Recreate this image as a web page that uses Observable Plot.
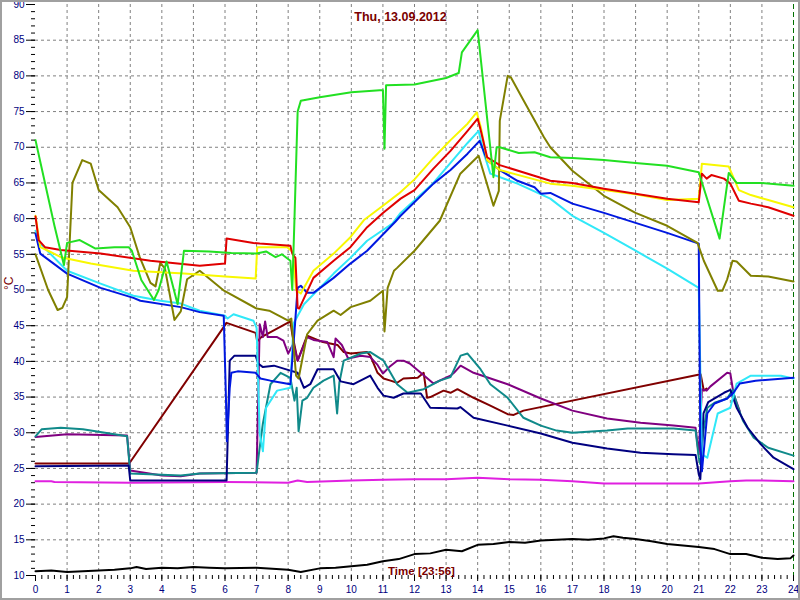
<!DOCTYPE html>
<html><head><meta charset="utf-8">
<script src="https://cdn.jsdelivr.net/npm/d3@7"></script>
<script src="https://cdn.jsdelivr.net/npm/@observablehq/plot@0.6"></script>
<style>
body{margin:0;background:#fff;}
#chart svg{display:block;outline:2px solid #a0a0a0;outline-offset:-2px;}
</style></head><body><div id="chart"></div>
<script>
// hours on x, °C on y
const hourTicks = d3.range(0, 25);
const hourMinor = d3.range(0, 24.01, 0.2);
const tempTicks = d3.range(10, 91, 5);
const tempMinor = d3.range(10, 91, 1);
const nowMarker = [24];
const titleText = ["Thu, 13.09.2012"];
const timeText = ["Time [23:56]"];
const unitText = ["°C"];

const lime = [[0,71],[0.3,65],[0.6,59],[0.9,53.5],[1.0,56.6],[1.4,57],[1.9,55.8],[2.5,56],[2.95,56],[3.05,55.5],[3.35,51.4],[3.75,48.6],[3.9,50],[4.15,54],[4.5,48],[4.7,55.5],[5.5,55.4],[6.2,55.2],[7.0,55.1],[7.3,55.4],[7.6,54.6],[7.8,55],[8.07,54.1],[8.13,50],[8.2,60],[8.3,75],[8.4,76.5],[9,77],[10,77.7],[10.9,78],[11.0,78],[11.05,69.8],[11.1,78.7],[12,78.8],[13,79.7],[13.4,80.4],[13.5,83.3],[14.0,86.4],[14.5,65.8],[14.6,70],[14.7,70],[15.3,69.2],[15.8,69.3],[16.3,68.6],[17,68.5],[18,68.2],[19,67.8],[20,67.4],[21.0,66.5],[21.66,57.2],[21.95,66.4],[22.2,65],[22.95,65],[24,64.6]];
const olive = [[0,55],[0.4,50],[0.7,47.2],[0.85,47.5],[1.0,49],[1.17,65],[1.48,68.2],[1.75,67.7],[2.0,64],[2.6,61.6],[3.0,58.8],[3.3,54.6],[3.64,51],[3.8,50.5],[3.95,53.8],[4.1,53],[4.4,45.8],[4.6,47],[4.8,51.5],[5.2,52.7],[5.97,49.9],[7.0,47.4],[7.4,47.1],[8.0,45.7],[8.1,46],[8.25,38],[8.33,37.6],[8.6,43.8],[8.93,45.7],[9.44,47.1],[9.66,46.5],[9.98,47.6],[10.6,48.5],[11.0,49.9],[11.05,44.2],[11.15,50.3],[11.35,52.7],[11.45,53.1],[12,55.5],[12.8,59.7],[13.45,66.3],[14.03,68.8],[14.5,61.8],[14.67,63.9],[14.7,73.7],[14.95,80],[15.05,79.8],[15.45,76.6],[16.1,71.4],[16.3,70],[17,66.7],[18,63.2],[19,60.8],[20,59],[20.96,56.6],[21.16,54.1],[21.6,49.9],[21.75,49.9],[21.9,51.5],[22.07,54.1],[22.2,54],[22.65,52],[23.2,51.9],[24,51.2]];
const red = [[0,60.3],[0.1,57],[0.3,56],[0.8,55.6],[2.06,55.1],[3.64,54.1],[5.2,53.4],[6.0,53.7],[6.05,57.2],[6.9,56.6],[7.1,56.5],[8.07,56.2],[8.13,55.1],[8.23,54.5],[8.3,47.5],[8.35,47.4],[8.8,51.7],[9.44,54.1],[9.97,56],[10.5,58.8],[11,60.8],[11.56,62.8],[12,64],[12.6,67],[13.14,69.5],[13.68,72.3],[14.0,74],[14.1,72.3],[14.3,68.6],[14.7,67.5],[16.3,65.3],[17,65],[18,64.2],[19,63.5],[20,62.8],[21,62.3],[21.1,66.3],[21.25,65.6],[21.4,66.1],[21.8,65.6],[22,64.9],[22.27,62.5],[22.65,62.1],[23.2,61.6],[24,60.4]];
const yellow = [[0,60.4],[0.15,56],[0.4,55.5],[0.8,54.6],[1.75,53.7],[3.1,52.7],[4.7,52.3],[6,51.9],[6.97,51.6],[7.02,56],[7.97,56],[8.15,55.3],[8.25,50],[8.4,49.5],[8.8,52.7],[9.44,55.1],[9.97,57.4],[10.4,59.8],[11,61.8],[11.5,63.5],[12,65.5],[12.6,68.5],[13.14,71],[13.68,73.3],[13.97,74.9],[14.1,72.8],[14.3,68.2],[14.7,66.8],[16.3,64.9],[17,64.6],[18,64],[19,63.4],[20,62.6],[21,62.8],[21.1,67.7],[21.95,67.3],[22.27,64],[22.65,63.3],[23.2,62.6],[24,61.6]];
const cyan = [[0,58.3],[0.15,56.5],[1,52.7],[2.06,50.9],[3.1,49.2],[3.96,48.5],[4.6,48.1],[5.2,47.1],[6.0,46.4],[6.08,46],[6.27,46.6],[6.9,45.7],[7.0,44.7],[7.1,29.8],[7.2,27.4],[7.3,33.5],[7.65,35.9],[8.07,36.3],[8.17,45.3],[8.5,48],[9.44,52.3],[9.97,54.5],[10.5,56.9],[11.3,59.3],[11.56,60.8],[12.6,65],[13.14,67.8],[13.68,70.6],[14.03,72.3],[14.2,69.1],[14.4,66.3],[15.26,64.9],[16.3,62.8],[17,60.4],[18,58],[19,55.5],[20,53],[21.0,50.3],[21.1,27],[21.27,26.5],[21.6,32.7],[22.0,33.5],[22.2,36.9],[22.65,38],[23.6,38],[24,37.6]];
const blue = [[0,57.9],[0.15,55.1],[1,52.3],[2.06,50.3],[3.1,48.9],[3.32,48.5],[4.6,47.6],[5.2,46.9],[5.96,46.4],[6.03,34.9],[6.06,28.8],[6.15,36.3],[6.2,38.4],[6.4,38.6],[6.97,38.4],[7.12,37.6],[7.44,37.3],[8.07,36.8],[8.2,44.2],[8.3,50.3],[8.4,50.6],[8.6,49.6],[8.8,49.6],[9.44,51.7],[9.97,53.7],[10.5,55.5],[11.4,59.6],[11.56,60.4],[12.6,64.9],[13.14,66.8],[13.68,69.1],[14.06,70.9],[14.3,68.2],[14.7,66.8],[15.26,65.3],[15.8,64.4],[16.0,63.5],[16.3,63.6],[17,62.1],[18,60.8],[19,59.4],[20,58],[21.0,56.5],[21.05,28.8],[21.1,24.6],[21.27,32.7],[21.5,34.1],[21.9,34.8],[22.1,35.6],[22.3,36.9],[22.8,37.3],[24,37.7]];
const navy = [[0,25.3],[2.95,25.4],[3.0,23.3],[5.95,23.3],[6.05,23.3],[6.15,40.1],[6.3,40.8],[6.97,40.8],[7.05,39.7],[7.2,39.2],[7.55,39.4],[8.07,38.7],[8.3,38.4],[8.5,36.3],[8.7,36.8],[8.93,38.9],[9.44,38.9],[9.66,37.2],[10.07,36.8],[10.6,38],[10.83,36.3],[11.02,35.2],[11.34,34.9],[11.65,35.5],[12.2,35.5],[12.5,33.5],[13.36,33.4],[13.45,33.6],[13.87,32.1],[14.95,31],[16,29.9],[17,28.6],[18.1,27.8],[19.16,27.2],[20.2,27],[20.9,26.9],[21.0,24.2],[21.05,23.5],[21.15,32.7],[21.3,34.3],[21.8,35.6],[22,36],[22.2,33.5],[22.55,30.7],[22.96,28.4],[23.37,26.5],[24,24.9]];
const maroon = [[0,25.7],[2.95,25.7],[3.0,25.9],[6.05,45.4],[6.97,44],[7.02,42.8],[7.15,43.4],[8.07,45.6],[8.13,43.8],[8.3,40.1],[8.6,43.6],[9.1,42.7],[9.56,42.3],[9.76,41.3],[9.98,41.1],[10.5,41.3],[10.6,40.8],[10.83,38.4],[11.02,37.6],[11.24,37.3],[11.45,37],[11.65,37.6],[12.1,37.7],[12.29,38.4],[12.4,34.9],[12.5,35],[12.92,35.9],[13.14,35.6],[13.36,36.1],[13.87,34.9],[14.4,33.8],[14.95,32.6],[15.14,32.5],[15.45,33.1],[21.06,38.2],[21.16,35.9],[21.25,36.2]];
const purple = [[0,29.4],[1,29.8],[2.9,29.6],[3.0,24.7],[4,24],[4.6,23.9],[5.2,24.3],[7.0,24.4],[7.1,45.2],[7.2,43.4],[7.27,45.6],[7.35,43.4],[7.65,43.4],[7.85,42.9],[8.0,41.1],[8.17,42.5],[8.3,40.1],[8.4,41.2],[8.6,43.4],[8.8,43],[9.24,42.7],[9.44,40.6],[9.5,43.2],[9.7,42.3],[9.9,40.4],[10.3,40.8],[10.6,40.6],[10.83,39.5],[11.0,38.3],[11.2,39.2],[11.45,40.1],[11.65,40.1],[11.85,39.7],[12.6,36.9],[13.14,38],[13.25,38.4],[13.46,39.4],[13.87,38.4],[14.95,36.8],[16,34.8],[17,33.1],[18.1,32],[19.16,31.4],[20.2,31],[20.9,30.7],[21.0,27],[21.1,36.1],[21.25,35.9],[21.37,36.5],[21.9,38.4],[22.0,38.3],[22.1,35.5],[22.3,33]];
const teal = [[0,29.5],[0.2,30.5],[0.8,30.7],[1.5,30.5],[2.9,29.5],[3.0,24.3],[4,24.1],[4.6,24],[5.2,24.3],[7.0,24.4],[7.1,28],[7.2,31.3],[7.44,36.8],[7.76,38.4],[8.07,37.7],[8.2,34.5],[8.27,36.3],[8.33,30.2],[8.45,34.5],[8.6,34.9],[8.8,36.3],[9.12,37.3],[9.44,38],[9.55,32.7],[9.62,37],[9.76,40.1],[10.3,41.1],[10.6,41.3],[11.02,40.1],[11.45,36.8],[11.78,35.6],[12.29,36.1],[12.8,37.3],[13.14,37.8],[13.46,40.8],[13.68,41.1],[14.09,38.9],[14.4,36.8],[14.95,34.9],[15.45,32.1],[16,31],[16.5,30.3],[17,30],[18.1,30.3],[18.75,30.6],[20.2,30.6],[20.9,30.3],[21.0,26.5],[21.05,25.6],[21.15,30.3],[21.27,33.5],[21.5,34.2],[21.9,34.8],[22.07,36],[22.2,34.1],[22.4,31.7],[22.74,29.3],[23.2,27.9],[24,26.8]];
const magenta = [[0,23.2],[0.5,23.2],[0.6,23.1],[3,23.0],[6,23.1],[8,23.0],[8.3,23.3],[8.6,23.1],[10,23.3],[11,23.4],[12,23.5],[13,23.5],[14,23.7],[15,23.5],[16,23.4],[17,23.2],[18,22.9],[19,22.9],[20,22.9],[21,22.9],[22,23.2],[22.5,23.3],[23,23.3],[24,23.2]];
const black = [[0,10.6],[0.5,10.7],[1,10.5],[1.5,10.6],[2,10.7],[2.5,10.8],[3,11.0],[3.2,11.2],[3.5,10.9],[4,11.1],[4.5,11.0],[5,11.2],[5.5,11.1],[6,11.0],[7,11.1],[8,10.8],[8.4,10.5],[9,11.0],[9.5,11.1],[10,11.3],[10.5,11.5],[11,12.0],[11.5,12.3],[12,13.0],[12.5,13.1],[13,13.6],[13.5,13.4],[14,14.3],[14.5,14.4],[15,14.7],[15.5,14.6],[16,14.9],[16.5,15.0],[17,15.1],[17.5,15.0],[18,15.2],[18.3,15.5],[18.6,15.3],[19,15.1],[19.5,14.8],[20,14.4],[20.5,14.2],[21,14.0],[21.5,13.7],[22,13.0],[22.5,13.0],[23,12.5],[23.5,12.3],[23.9,12.4],[24,12.8]];

const series = [
  {data: black, color: "#000000"},
  {data: magenta, color: "#e020e0"},
  {data: maroon, color: "#800000"},
  {data: purple, color: "#800080"},
  {data: teal, color: "#108a8a"},
  {data: navy, color: "#000080"},
  {data: cyan, color: "#30e8f8"},
  {data: blue, color: "#0018e0"},
  {data: olive, color: "#808000"},
  {data: yellow, color: "#f8f800"},
  {data: red, color: "#e00000"},
  {data: lime, color: "#22e022"}
];

const font = "Arial, 'Liberation Sans', sans-serif";
const chart = Plot.plot({
  width: 800, height: 600,
  marginLeft: 35, marginRight: 7, marginTop: 4, marginBottom: 25,
  x: {domain: [0, 24]},
  y: {domain: [10, 90]},
  style: {fontFamily: font, fontSize: "10px", background: "#ffffff", overflow: "visible"},
  marks: [
    Plot.gridX(hourTicks.slice(1, -1), {stroke: "#808080", strokeOpacity: 1, strokeDasharray: "3,3"}),
    Plot.gridY(tempTicks.slice(1, -1), {stroke: "#808080", strokeOpacity: 1, strokeDasharray: "3,3"}),
    Plot.ruleX(nowMarker, {stroke: "#007000", strokeDasharray: "5,3", strokeWidth: 1}),
    ...series.map(s => Plot.line(s.data, {x: d => d[0], y: d => d[1], stroke: s.color, strokeWidth: 2})),
    Plot.axisX(hourMinor, {tickSize: 4, stroke: "#000", tickFormat: () => "", label: null}),
    Plot.axisX(hourTicks, {tickSize: 6, tickPadding: 4, stroke: "#000", fill: "#000080", label: null}),
    Plot.axisY(tempMinor, {tickSize: 4, stroke: "#000", tickFormat: () => "", label: null}),
    Plot.axisY(tempTicks, {tickSize: 9, tickPadding: 2, stroke: "#000", fill: "#000080", label: null}),
    Plot.text(titleText, {frameAnchor: "top", dx: -14, dy: 8, text: d => d, fill: "#7a0000", fontWeight: "bold", fontSize: 12.5}),
    Plot.text(timeText, {frameAnchor: "bottom", dx: 7, dy: -1, text: d => d, fill: "#7a0000", fontWeight: "bold", fontSize: 11.5}),
    Plot.text(unitText, {frameAnchor: "left", dx: -26, rotate: -90, text: d => d, fill: "#7a0000", fontSize: 12})
  ]
});
document.getElementById("chart").appendChild(chart);
</script></body></html>
